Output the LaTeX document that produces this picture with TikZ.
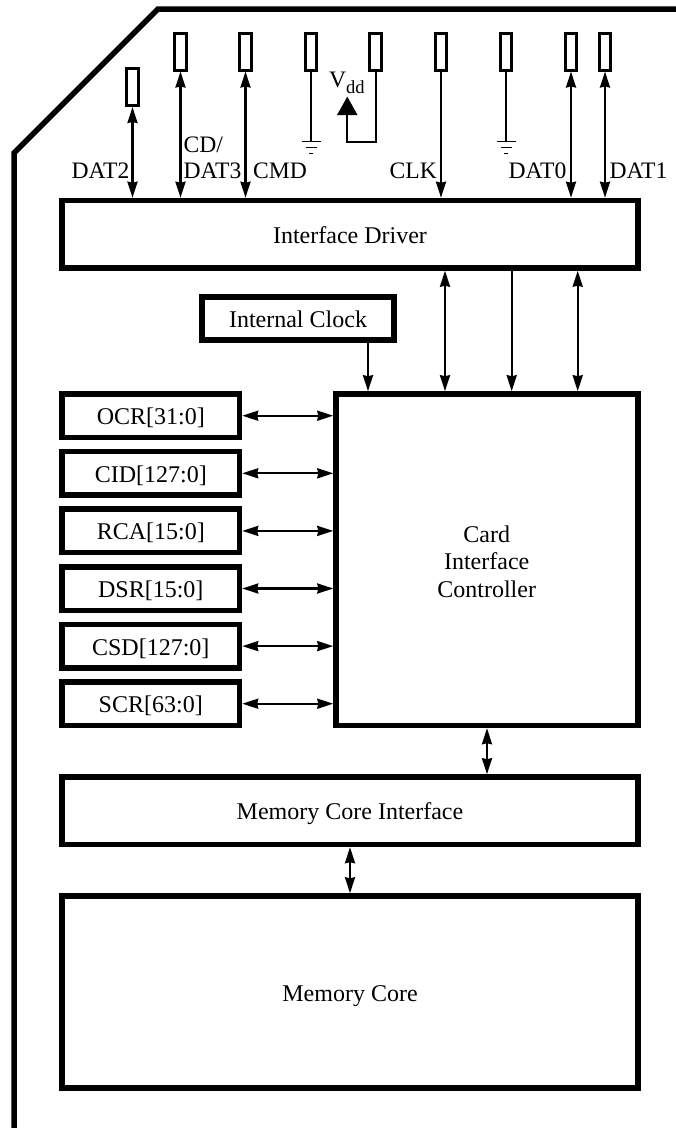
\documentclass[tikz,border=0pt]{standalone}
\usepackage{fontspec}
\setmainfont{Liberation Serif}
\usetikzlibrary{arrows.meta,positioning,calc}
\tikzset{
  block/.style={draw,line width=5.5pt,inner sep=0pt,font=\fontsize{24}{27.3}\selectfont,align=center},
  oneline/.style={block,text height=18pt,text depth=0pt},
  regbox/.style={oneline,minimum width=177.5pt,minimum height=43.5pt},
  widebox/.style={oneline,minimum width=576pt},
  pinbox/.style={draw,line width=3pt,inner sep=0pt,minimum width=11.5pt,minimum height=37pt},
  label/.style={inner sep=0pt,font=\fontsize{23.6}{27.3}\selectfont},
  wire/.style={line width=2.2pt},
  gndbar/.style={line width=1.7pt},
  biarrow/.style={wire,{Stealth[length=16pt,width=10pt,inset=1pt]}-{Stealth[length=16pt,width=10pt,inset=1pt]}},
  onearrow/.style={wire,-{Stealth[length=16pt,width=10pt,inset=1pt]}}
}
\begin{document}
\begin{tikzpicture}[x=1pt,y=-1pt]
  \useasboundingbox (0,0) rectangle (676,1128);

  % Card outline
  \coordinate (cardbl) at (14,1128);
  \coordinate (cardtr) at (676,9);
  \draw[line width=5.5pt,miter limit=10] (cardbl) -- (14,153) -- (158,9) -- (cardtr);

  % Large blocks
  \node[widebox,minimum height=67.5pt] (driver) at (350,234.2) {Interface Driver};
  \node[oneline,minimum width=192pt,minimum height=43pt] (clock) at (298,318.5) {Internal Clock};
  \node[block,minimum width=302pt,minimum height=331.5pt] (ctrl) at (487,559.7) {};
  \node[label,align=center,font=\fontsize{24}{27.3}\selectfont] (ctrltext) at (486.7,561.5) {Card\\Interface\\Controller};
  \node[widebox,minimum height=67.5pt] (coreif) at (350,810.7) {Memory Core Interface};
  \node[widebox,minimum height=192pt] (core) at (350,992) {Memory Core};

  % Contact pins
  \foreach \name/\x/\y in {dattwo/132.5/87,datthree/180.5/51.5,cmd/245.5/51.5,vss/311/51.5,vdd/375.7/51.5,clk/441/51.5,vsstwo/506/51.5,datzero/571/51.5,datone/605/51.5}
    \node[pinbox] (\name) at (\x,\y) {};

  % Pin connectors
  \foreach \name in {dattwo,datthree,cmd,datzero,datone}
    \draw[biarrow] (\name.south) -- (\name.south |- driver.north);
  \draw[onearrow] (clk.south) -- (clk.south |- driver.north);

  % Ground symbols
  \foreach \name in {vss,vsstwo} {
    \draw[wire] (\name.south) -- ++(0,70);
    \draw[gndbar] ($(\name.south)+(-9.5,70)$) -- ++(19,0);
    \draw[gndbar] ($(\name.south)+(-5.5,76)$) -- ++(11,0);
    \draw[gndbar] ($(\name.south)+(-2,82)$) -- ++(4,0);
  }

  % Supply loop
  \coordinate (vddtip) at (347.3,96.7);
  \draw[wire] (vdd.south) |- (347.3,142.3) -- (347.3,112);
  \fill (vddtip) -- (357.5,115) -- (337,115) -- cycle;
  \node[label,anchor=base west] (vddtext) at (329,87) {V\raisebox{-6.5pt}{\fontsize{18.5}{19}\selectfont dd}};

  % Pin labels
  \node[label,anchor=base east] (dattwotext) at (129.5,178) {DAT2};
  \node[label,anchor=base west] (cdtext) at (183.5,152.7) {CD/};
  \node[label,anchor=base west] (datthreetext) at (183.5,178) {DAT3};
  \node[label,anchor=base west] (cmdtext) at (253,178) {CMD};
  \node[label,anchor=base east] (clktext) at (437,178) {CLK};
  \node[label,anchor=base east] (datzerotext) at (566.5,178) {DAT0};
  \node[label,anchor=base west] (datonetext) at (609.5,178) {DAT1};

  % Registers
  \foreach \name/\y/\txt in {ocr/415.7/OCR[31:0],cid/473.3/CID[127:0],rca/530.9/RCA[15:0],dsr/588.5/DSR[15:0],csd/646.1/CSD[127:0],scr/703.7/SCR[63:0]} {
    \node[regbox] (\name) at (150.75,\y) {\txt};
    \draw[biarrow] (\name.east) -- (\name.east -| ctrl.west);
  }

  % Inner connectors
  \coordinate (busa) at (445,300);
  \coordinate (busb) at (511.7,300);
  \coordinate (busc) at (577.7,300);
  \coordinate (clkin) at (368,360);
  \draw[biarrow] (busa |- driver.south) -- (busa |- ctrl.north);
  \draw[onearrow] (busb |- driver.south) -- (busb |- ctrl.north);
  \draw[biarrow] (busc |- driver.south) -- (busc |- ctrl.north);
  \draw[onearrow] (clkin |- clock.south) -- (clkin |- ctrl.north);
  \draw[biarrow] (ctrl.south) -- (ctrl.south |- coreif.north);
  \draw[biarrow] (coreif.south) -- (core.north);
\end{tikzpicture}
\end{document}
